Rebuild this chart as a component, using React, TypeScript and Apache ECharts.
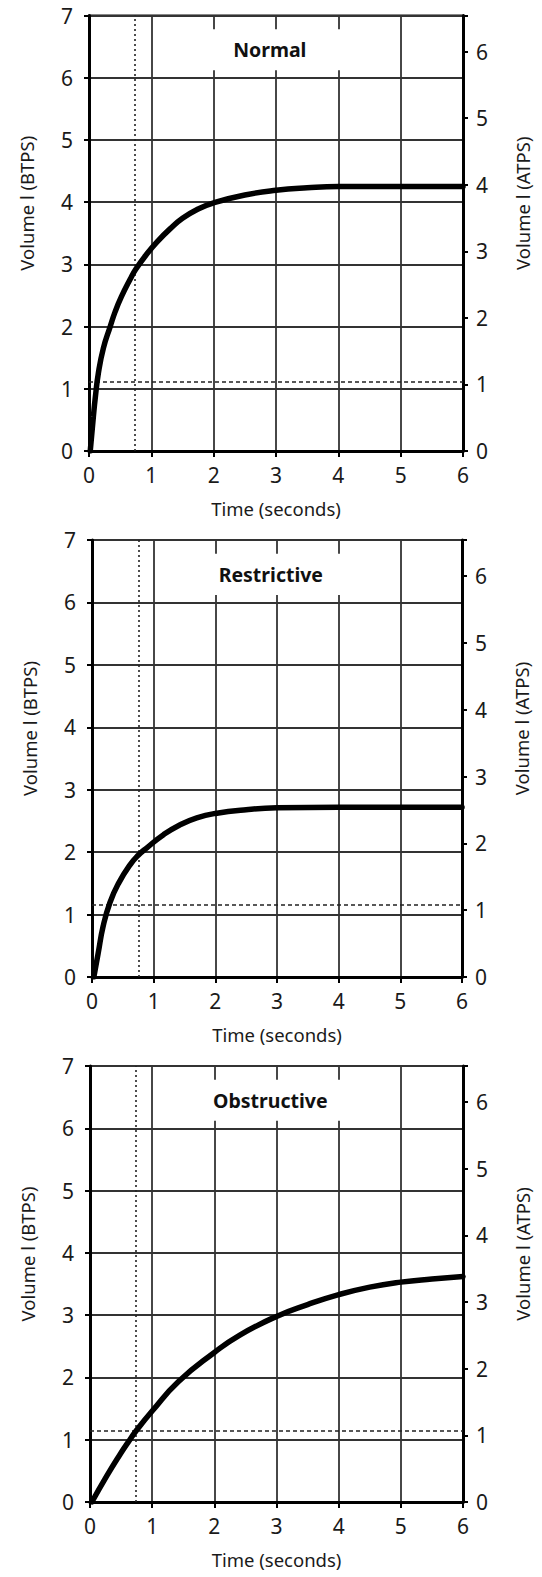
import React, { useEffect, useRef } from "react";
import * as echarts from "echarts";

// ---- data ----
const panelTitles = ["Normal", "Restrictive", "Obstructive"];

const normalT = [0.02, 0.07, 0.1, 0.15, 0.23, 0.34, 0.42, 0.52, 0.66, 0.75, 0.93, 1.1, 1.3, 1.5, 1.75, 2.0, 2.5, 3.0, 3.5, 4.0, 5.0, 6.0];
const normalV = [0, 0.55, 0.85, 1.25, 1.65, 2.0, 2.24, 2.48, 2.76, 2.92, 3.17, 3.37, 3.57, 3.74, 3.89, 3.99, 4.115, 4.19, 4.23, 4.25, 4.25, 4.25];

const restrictiveT = [0.03, 0.1, 0.18, 0.29, 0.43, 0.62, 0.75, 0.89, 1.16, 1.43, 1.7, 2.0, 2.5, 3.0, 4.0, 5.0, 6.0];
const restrictiveV = [0, 0.38, 0.81, 1.19, 1.5, 1.8, 1.95, 2.07, 2.28, 2.44, 2.55, 2.62, 2.68, 2.71, 2.72, 2.72, 2.72];

const obstructiveT = [0.03, 0.27, 0.48, 0.62, 0.74, 1.0, 1.42, 2.0, 2.41, 3.0, 3.5, 4.0, 4.5, 5.0, 5.5, 6.0];
const obstructiveV = [0, 0.42, 0.76, 0.97, 1.14, 1.46, 1.93, 2.4, 2.68, 2.98, 3.17, 3.33, 3.45, 3.53, 3.58, 3.62];

const dashedTime = [0.74, 0.75, 0.74];
const dashedVolume = [1.11, 1.15, 1.14];

const btpsMax = 7;
const atpsFactor = 1.07; // BTPS per ATPS

const xLabel = "Time (seconds)";
const leftLabel = "Volume l (BTPS)";
const rightLabel = "Volume l (ATPS)";

const curves = [
  [normalT, normalV],
  [restrictiveT, restrictiveV],
  [obstructiveT, obstructiveV],
];

// ---- layout ----
const grids = [
  { left: 89, top: 15.5, width: 374, height: 435.5 },
  { left: 92, top: 540, width: 370, height: 437 },
  { left: 90, top: 1066, width: 373, height: 436 },
];

const FONT = "'Noto Sans', 'DejaVu Sans', sans-serif";
const INK = "#1a1a1a";
const GRIDC = "#333333";

export default function App() {
  const ref = useRef<HTMLDivElement>(null);

  useEffect(() => {
    if (!ref.current) return;
    const chart = echarts.init(ref.current, undefined, { renderer: "svg" });

    const grid = grids.map((g) => ({
      ...g,
      show: true,
      borderColor: "#111",
      borderWidth: 2,
      backgroundColor: "transparent",
    }));

    const xAxis = grids.map((_, i) => ({
      gridIndex: i,
      type: "value",
      min: 0,
      max: 6,
      interval: 1,
      axisLine: { show: true, lineStyle: { color: "#000", width: 3 } },
      axisTick: { show: true, length: 6, lineStyle: { color: "#000", width: 2 } },
      axisLabel: { fontSize: 21, margin: 13, color: INK, fontFamily: FONT },
      splitLine: { show: true, lineStyle: { color: GRIDC, width: 1.8 } },
      name: xLabel,
      nameLocation: "middle",
      nameGap: 48,
      nameTextStyle: { fontSize: 18.5, color: INK, fontFamily: FONT },
    }));

    const yAxis: any[] = [];
    grids.forEach((_, i) => {
      yAxis.push({
        gridIndex: i,
        type: "value",
        position: "left",
        min: 0,
        max: btpsMax,
        interval: 1,
        axisLine: { show: true, lineStyle: { color: "#000", width: 3 } },
        axisTick: { show: true, length: 5, lineStyle: { color: "#000", width: 2 } },
        axisLabel: { fontSize: 21, margin: 16, color: INK, fontFamily: FONT },
        splitLine: { show: true, lineStyle: { color: GRIDC, width: 1.8 } },
        name: leftLabel,
        nameLocation: "middle",
        nameGap: 53,
        nameTextStyle: { fontSize: 18.5, color: INK, fontFamily: FONT, padding: [0, 0, 0, 60] },
      });
      yAxis.push({
        gridIndex: i,
        type: "value",
        position: "right",
        min: 0,
        max: btpsMax / atpsFactor,
        interval: 1,
        axisLine: { show: true, lineStyle: { color: "#000", width: 3 } },
        axisTick: { show: true, length: 5, lineStyle: { color: "#000", width: 2 } },
        axisLabel: {
          fontSize: 21,
          margin: 13,
          color: INK,
          fontFamily: FONT,
          formatter: (v: number) => (Math.abs(v - Math.round(v)) < 1e-6 ? String(Math.round(v)) : ""),
        },
        splitLine: { show: false },
        name: rightLabel,
        nameLocation: "middle",
        nameGap: 50,
        nameTextStyle: { fontSize: 18.5, color: INK, fontFamily: FONT, padding: [0, 0, 0, 60] },
      });
    });

    const series = curves.map(([ts, vs], i) => ({
      type: "line",
      xAxisIndex: i,
      yAxisIndex: 2 * i,
      data: ts.map((t, k) => [t, vs[k]]),
      symbol: "none",
      smooth: 0.5,
      lineStyle: { color: "#000", width: 5.5, cap: "round", join: "round" },
      silent: true,
      z: 5,
      markLine: {
        silent: true,
        symbol: ["none", "none"],
        label: { show: false },
        data: [
          { xAxis: dashedTime[i], lineStyle: { type: [2, 3], color: "#222", width: 1.6 } },
          { yAxis: dashedVolume[i], lineStyle: { type: [4, 3], color: "#222", width: 1.6 } },
        ],
      },
      markArea: {
        silent: true,
        itemStyle: { color: "#fff" },
        label: {
          show: true,
          position: "inside",
          fontSize: 19.5,
          fontWeight: "bold",
          color: "#111",
          fontFamily: FONT,
        },
        data: [[{ name: panelTitles[i], xAxis: 1.4, yAxis: 6.12 }, { xAxis: 4.4, yAxis: 6.78 }]],
      },
    }));

    chart.setOption({
      animation: false,
      backgroundColor: "#fff",
      grid,
      xAxis,
      yAxis,
      series,
    } as any);

    return () => chart.dispose();
  }, []);

  return (
    <div
      ref={ref}
      style={{ position: "absolute", left: 0, top: 0, width: 542, height: 1577 }}
    />
  );
}
